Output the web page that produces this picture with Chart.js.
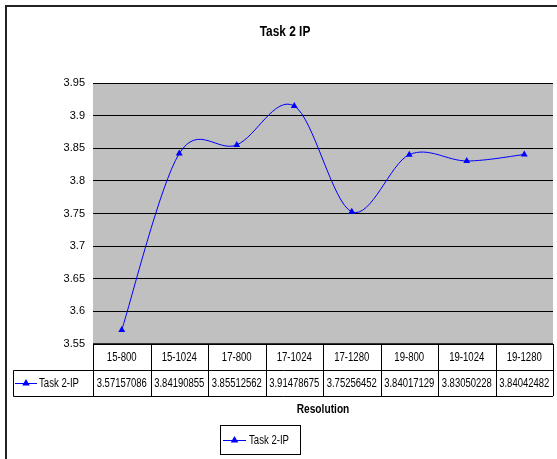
<!DOCTYPE html>
<html>
<head>
<meta charset="utf-8">
<script src="https://cdn.jsdelivr.net/npm/chart.js@4/dist/chart.umd.min.js"></script>
<style>
  html, body { margin: 0; padding: 0; background: #fff; }
  #wrap { width: 557px; height: 459px; }
</style>
</head>
<body>
<div id="wrap"><canvas id="task2Chart" width="557" height="459"></canvas></div>
<script>
const resolutions = ["15-800", "15-1024", "17-800", "17-1024", "17-1280", "19-800", "19-1024", "19-1280"];
const task2IP = [3.57157086, 3.84190855, 3.85512562, 3.91478675, 3.75256452, 3.84017129, 3.83050228, 3.84042482];
const seriesName = "Task 2-IP";
const chartTitle = "Task 2 IP";
const xTitle = "Resolution";
const yMin = 3.55, yMax = 3.95, yStep = 0.05;

const fontFam = "'Liberation Sans', Arial, sans-serif";
const lineBlue = "#0000FF";

function triangle(ctx, x, y, r) {
  ctx.beginPath();
  ctx.moveTo(x, y - r);
  ctx.lineTo(x + r * 0.95, y + r * 0.6);
  ctx.lineTo(x - r * 0.95, y + r * 0.6);
  ctx.closePath();
  ctx.fill();
}

function legendKey(ctx, x1, x2, y) {
  ctx.strokeStyle = lineBlue;
  ctx.fillStyle = lineBlue;
  ctx.lineWidth = 1;
  ctx.beginPath();
  ctx.moveTo(x1, y + 0.5);
  ctx.lineTo(x2, y + 0.5);
  ctx.stroke();
  triangle(ctx, (x1 + x2) / 2, y, 4);
}

// no narrow font installed, so squeeze the text a bit horizontally
function narrowText(ctx, txt, x, y, squeeze) {
  ctx.save();
  ctx.translate(x, y);
  ctx.scale(squeeze, 1);
  ctx.fillText(txt, 0, 0);
  ctx.restore();
}

// excel "smoothed line" is closer to catmull-rom than chart.js tension,
// so recompute the bezier handles from the point positions
const excelSmooth = {
  id: "excelSmooth",
  afterDatasetUpdate(chart, args) {
    const pts = args.meta.data;
    for (let i = 0; i < pts.length; i++) {
      const prev = pts[Math.max(i - 1, 0)];
      const next = pts[Math.min(i + 1, pts.length - 1)];
      const dx = (next.x - prev.x) / 6, dy = (next.y - prev.y) / 6;
      pts[i].cp1x = pts[i].x - dx; pts[i].cp1y = pts[i].y - dy;
      pts[i].cp2x = pts[i].x + dx; pts[i].cp2y = pts[i].y + dy;
    }
    args.meta.dataset._pointsUpdated = true;
  }
};

// gray plot background, excel style
const plotBack = {
  id: "plotBack",
  beforeDraw(chart) {
    const {ctx, chartArea: a} = chart;
    ctx.save();
    ctx.fillStyle = "#C0C0C0";
    ctx.fillRect(a.left, a.top, a.right - a.left, a.bottom - a.top);
    ctx.restore();
  }
};

// title, data table, axis title, legend box, outer border
const tableAndText = {
  id: "tableAndText",
  afterDraw(chart) {
    const {ctx, chartArea: a} = chart;
    const n = resolutions.length;
    const colW = (a.right - a.left) / n;
    const row1 = a.bottom, row2 = 370, row3 = 396;
    const tableLeft = 13;
    ctx.save();

    // outer frame
    ctx.strokeStyle = "#222";
    ctx.lineWidth = 2;
    ctx.strokeRect(6, 6, 700, 700);

    ctx.fillStyle = "#000";
    ctx.font = "bold 14px " + fontFam;
    ctx.textAlign = "center";
    ctx.textBaseline = "middle";
    narrowText(ctx, chartTitle, 285, 32, 0.85);

    // axis line under plot
    ctx.strokeStyle = "#000";
    ctx.lineWidth = 1.5;
    ctx.beginPath();
    ctx.moveTo(a.left, row1);
    ctx.lineTo(a.right, row1);
    ctx.stroke();

    ctx.lineWidth = 1;
    ctx.beginPath();
    for (let i = 0; i <= n; i++) {
      const x = Math.round(a.left + i * colW) + 0.5;
      ctx.moveTo(x, row1);
      ctx.lineTo(x, row3);
    }
    ctx.moveTo(tableLeft + 0.5, row2 + 0.5);
    ctx.lineTo(a.right, row2 + 0.5);
    ctx.moveTo(tableLeft + 0.5, row3 + 0.5);
    ctx.lineTo(a.right, row3 + 0.5);
    ctx.moveTo(tableLeft + 0.5, row2 + 0.5);
    ctx.lineTo(tableLeft + 0.5, row3 + 0.5);
    ctx.stroke();

    ctx.font = "12px " + fontFam;
    ctx.fillStyle = "#000";
    resolutions.forEach((r, i) => {
      const cx = chart.scales.x.getPixelForValue(i);
      narrowText(ctx, r, cx, (row1 + row2) / 2 + 1, 0.8);
      narrowText(ctx, String(task2IP[i]), cx, (row2 + row3) / 2 + 1, 0.79);
    });

    legendKey(ctx, 15, 37, (row2 + row3) / 2);
    ctx.fillStyle = "#000";
    ctx.textAlign = "left";
    narrowText(ctx, seriesName, 39, (row2 + row3) / 2 + 1, 0.8);

    ctx.textAlign = "center";
    ctx.font = "bold 12px " + fontFam;
    narrowText(ctx, xTitle, (a.left + a.right) / 2, 410, 0.85);

    // legend
    ctx.strokeStyle = "#000";
    ctx.strokeRect(220.5, 425.5, 80, 29);
    legendKey(ctx, 223, 246, 440);
    ctx.fillStyle = "#000";
    ctx.font = "12px " + fontFam;
    ctx.textAlign = "left";
    narrowText(ctx, seriesName, 249, 441, 0.8);

    ctx.restore();
  }
};

const canvas = document.getElementById("task2Chart");

new Chart(canvas, {
  type: "line",
  data: {
    labels: resolutions,
    datasets: [{
      label: seriesName,
      data: task2IP,
      borderColor: lineBlue,
      backgroundColor: lineBlue,
      borderWidth: 1,
      tension: 0.4,
      pointStyle: "triangle",
      pointRadius: 4,
      pointBorderWidth: 0
    }]
  },
  options: {
    responsive: false,
    animation: false,
    layout: { padding: { top: 83, bottom: 115, left: 0, right: 4 } },
    plugins: {
      legend: { display: false },
      title: { display: false },
      tooltip: { enabled: false }
    },
    scales: {
      x: {
        display: false,
        offset: true
      },
      y: {
        min: yMin,
        max: yMax,
        afterFit: s => { s.width = 93; },
        border: { display: false },
        grid: { color: "#000", lineWidth: 1, drawTicks: false },
        ticks: {
          stepSize: yStep,
          padding: 8,
          color: "#000",
          font: { family: fontFam, size: 11 },
          callback: v => String(Number(v.toFixed(2)))
        }
      }
    }
  },
  plugins: [excelSmooth, plotBack, tableAndText]
});
</script>
</body>
</html>
